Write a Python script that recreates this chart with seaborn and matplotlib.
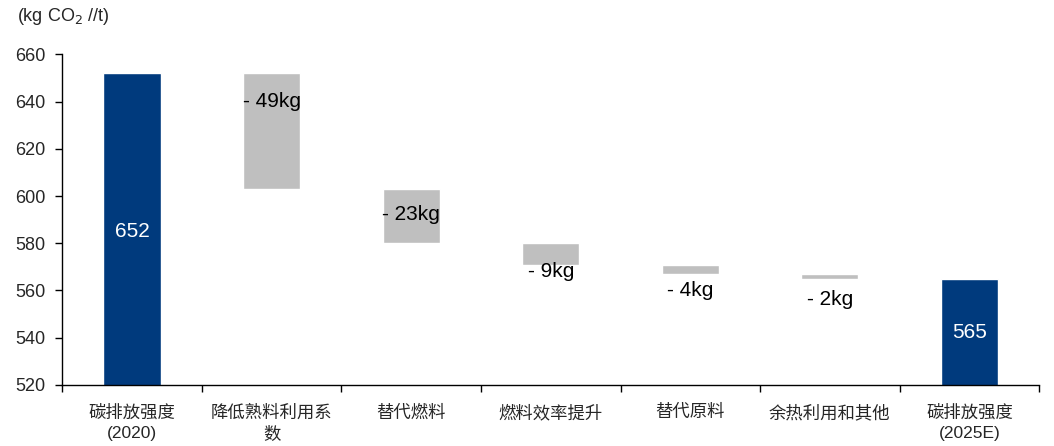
import matplotlib
matplotlib.use("Agg")
import matplotlib.pyplot as plt
import seaborn as sns
import pandas as pd
import numpy as np

# Waterfall data: 2020 intensity, reductions by measure, 2025E intensity
categories = ["碳排放强度\n(2020)", "降低熟料利用系\n数", "替代燃料", "燃料效率提升",
              "替代原料", "余热利用和其他", "碳排放强度\n(2025E)"]
start_value = 652
reductions = [49, 23, 9, 4, 2]
end_value = 565
# y positions (data units) of the reduction labels and the total labels
reduction_label_y = [640, 592, 568, 560, 556]
total_label_y = [585, 542]

# cumulative tops / bottoms of each bar
tops = [start_value]
bottoms = [0]
level = start_value
for r in reductions:
    tops.append(level)
    level -= r
    bottoms.append(level)
tops.append(end_value)
bottoms.append(0)

kinds = ["total"] + ["delta"] * len(reductions) + ["total"]
df = pd.DataFrame({"category": categories, "top": tops, "bottom": bottoms, "kind": kinds})

sns.set_theme(style="white")
plt.rcParams["font.family"] = ["Liberation Sans", "Noto Sans CJK SC", "DejaVu Sans"]

fig, ax = plt.subplots(figsize=(10.54, 4.46), dpi=100)
fig.subplots_adjust(left=0.059, right=0.986, top=0.878, bottom=0.137)

palette = {"total": "#003A7D", "delta": "#BFBFBF"}
sns.barplot(data=df, x="category", y="top", hue="kind", palette=palette,
            width=0.41, dodge=False, legend=False, saturation=1, ax=ax)
# mask the lower part of each reduction bar
sns.barplot(data=df[df["kind"] == "delta"], x="category", y="bottom", color="white",
            width=0.43, saturation=1, ax=ax, order=categories)

ax.set_ylim(520, 660)
ax.set_yticks(np.arange(520, 661, 20))
ax.set_xlim(-0.5, len(categories) - 0.5)
ax.set_xlabel("")
ax.set_ylabel("")

# labels
for i, (r, ly) in enumerate(zip(reductions, reduction_label_y)):
    ax.text(i + 1, ly, f"- {r}kg", ha="center", va="center", fontsize=15, color="black")
ax.text(0, total_label_y[0], f"{start_value}", ha="center", va="center", fontsize=15, color="white")
ax.text(len(categories) - 1, total_label_y[1], f"{end_value}", ha="center", va="center",
        fontsize=15, color="white")

# axes styling
for s in ["top", "right"]:
    ax.spines[s].set_visible(False)
for s in ["left", "bottom"]:
    ax.spines[s].set_color("black")
    ax.spines[s].set_linewidth(1.0)

ax.tick_params(axis="y", which="major", direction="out", length=5, width=1, color="black",
               labelsize=13, pad=7, left=True)
ax.set_xticks(range(len(categories)))
ax.set_xticklabels(categories, fontsize=12.5, linespacing=1.45)
ax.set_xticks(np.arange(-0.5, len(categories), 1.0), minor=True)
ax.tick_params(axis="x", which="major", length=0, pad=14)
ax.tick_params(axis="x", which="minor", direction="out", length=5, width=1, color="black", bottom=True)

fig.text(0.016, 0.962, "(kg CO$_2$ //t)", fontsize=13, ha="left", va="center")

fig.savefig("out.png", dpi=100, facecolor="white")
